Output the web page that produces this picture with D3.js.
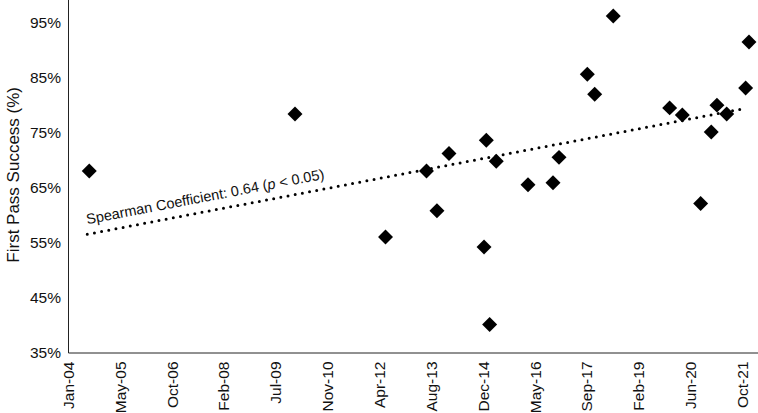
<!DOCTYPE html>
<html>
<head>
<meta charset="utf-8">
<script src="https://cdn.jsdelivr.net/npm/d3@7"></script>
<style>
    body { margin: 0; background: #fff; }
    svg { display: block; font-family: "Liberation Sans", Arial, Helvetica, sans-serif; }
    .axis text { font-size: 15.5px; fill: #111; }
    .axis path { stroke: #222; }
</style>
</head>
<body>
<svg width="758" height="413"></svg>
<script>
// procedure dates and first pass success (fraction)
var dates = ["2004-08-06", "2010-01-11", "2012-06-02", "2013-07-02", "2013-10-11", "2014-02-04",
    "2015-01-08", "2015-01-30", "2015-03-03", "2015-05-06", "2016-03-07", "2016-11-03",
    "2016-12-31", "2017-09-30", "2017-12-10", "2018-06-07", "2019-12-03", "2020-04-03",
    "2020-09-27", "2021-01-07", "2021-03-03", "2021-06-05", "2021-12-05", "2022-01-06"];
var success = [0.680, 0.784, 0.560, 0.680, 0.608, 0.712,
    0.542, 0.736, 0.401, 0.698, 0.655, 0.659,
    0.705, 0.856, 0.820, 0.962, 0.795, 0.782,
    0.621, 0.751, 0.800, 0.784, 0.831, 0.915];

// x axis: every 500 days, as in the original spreadsheet chart
var xTicks = ["2004-01-14", "2005-05-28", "2006-10-10", "2008-02-22", "2009-07-06", "2010-11-18",
    "2012-04-01", "2013-08-14", "2014-12-27", "2016-05-10", "2017-09-22", "2019-02-04",
    "2020-06-18", "2021-10-31"];
var xDomain = ["2004-01-14", "2022-04-03"];
var yTicks = [0.35, 0.45, 0.55, 0.65, 0.75, 0.85, 0.95];
var yDomain = [0.35, 1.0];

// trend line
var trendDates = ["2004-08-06", "2022-01-06"];
var trendValues = [0.565, 0.794];
var trendLabel = "Spearman Coefficient: 0.64 (";

var parse = d3.timeParse("%Y-%m-%d");
var data = dates.map(function (d, i) {
    return { date: parse(d), value: success[i] };
});

var svg = d3.select("svg"),
    margin = { left: 68, right: 0 },
    width = +svg.attr("width"),
    bottom = 352.5;

var x = d3.scaleTime().domain(xDomain.map(parse)).range([margin.left, width]);
var y = d3.scaleLinear().domain(yDomain).range([bottom, -4.8]);

// y axis
svg.append("g")
    .attr("class", "axis")
    .attr("transform", "translate(" + margin.left + ",0)")
    .call(d3.axisLeft(y).tickValues(yTicks).tickSize(0).tickPadding(7)
        .tickFormat(d3.format(".0%")));

// x axis
var gx = svg.append("g")
    .attr("class", "axis")
    .attr("transform", "translate(0," + bottom + ")")
    .call(d3.axisBottom(x).tickValues(xTicks.map(parse)).tickSize(0)
        .tickFormat(d3.timeFormat("%b-%y")));
gx.selectAll("text")
    .attr("transform", "rotate(-90)")
    .attr("x", -9)
    .attr("y", 0)
    .attr("dy", "0.35em")
    .style("text-anchor", "end");

// y title
svg.append("text")
    .attr("transform", "translate(19," + ((bottom - 4.8) / 2 + 1) + ") rotate(-90)")
    .attr("text-anchor", "middle")
    .style("font-size", "17px")
    .style("fill", "#111")
    .text("First Pass Success (%)");

// dotted trend line
var x1 = x(parse(trendDates[0])) - 2, y1 = y(trendValues[0]),
    x2 = x(parse(trendDates[1])) - 4, y2 = y(trendValues[1]);
svg.append("line")
    .attr("x1", x1).attr("y1", y1)
    .attr("x2", x2).attr("y2", y2)
    .attr("stroke", "#000")
    .attr("stroke-width", 3)
    .attr("stroke-linecap", "round")
    .attr("stroke-dasharray", "0 7.3");

var angle = Math.atan2(y2 - y1, x2 - x1) * 180 / Math.PI;
var label = svg.append("text")
    .attr("transform", "translate(" + x1 + "," + (y1 - 10) + ") rotate(" + angle + ")")
    .style("font-size", "14.5px")
    .style("fill", "#111");
label.append("tspan").text(trendLabel);
label.append("tspan").style("font-style", "italic").text("p");
label.append("tspan").text(" < 0.05)");

// diamonds
svg.selectAll(".pt")
    .data(data)
    .enter().append("path")
    .attr("class", "pt")
    .attr("d", d3.symbol(d3.symbolSquare, 112))
    .attr("transform", function (d) {
        return "translate(" + x(d.date) + "," + y(d.value) + ") rotate(45)";
    })
    .attr("fill", "#000");
</script>
</body>
</html>
